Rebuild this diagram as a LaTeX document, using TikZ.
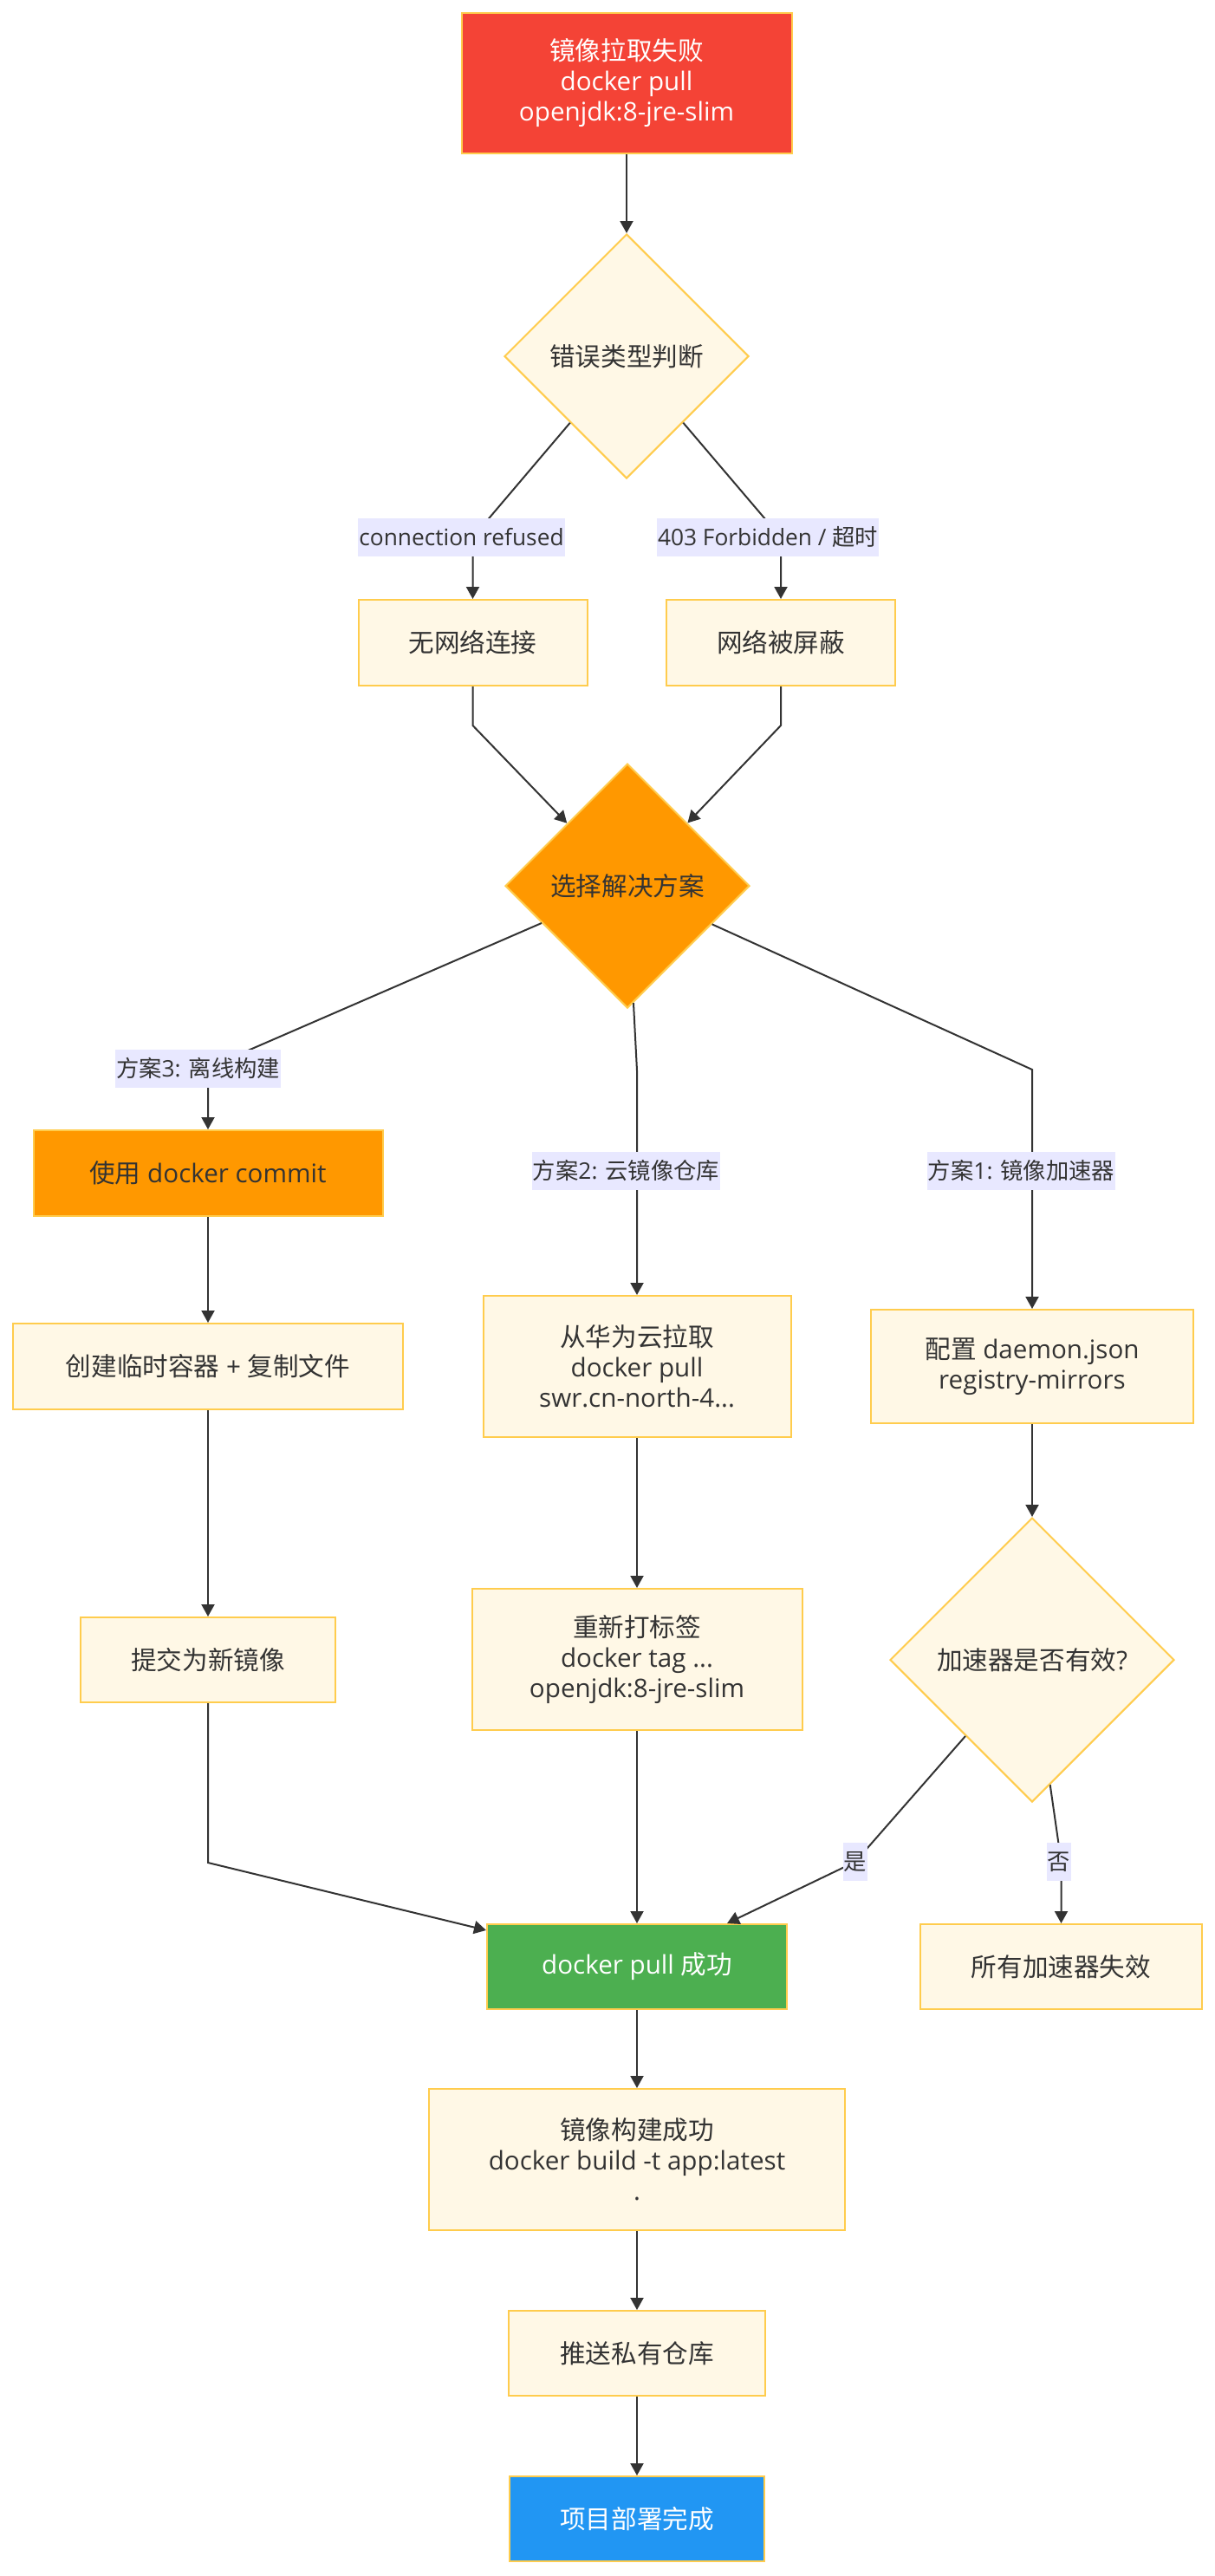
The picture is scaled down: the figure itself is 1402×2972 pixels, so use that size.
\documentclass[tikz,border=0pt]{standalone}
\usepackage{fontspec}
\setmainfont{Open Sans}
\newfontfamily\zhfont{Noto Sans CJK SC}
\newcommand\zh[1]{{\zhfont #1}}
\usetikzlibrary{shapes.geometric,arrows.meta}
\definecolor{nodefill}{HTML}{FFF8E6}
\definecolor{nodeborder}{HTML}{FFCC4D}
\definecolor{redfill}{HTML}{F44336}
\definecolor{orangefill}{HTML}{FF9800}
\definecolor{greenfill}{HTML}{4CAF50}
\definecolor{bluefill}{HTML}{2196F3}
\definecolor{lblbg}{HTML}{E8E8FF}
\definecolor{ink}{HTML}{333333}
\begin{document}
\begin{tikzpicture}[x=1pt,y=-1pt,
  box/.style={draw=nodeborder, line width=2pt, fill=nodefill, text=ink, align=center, inner sep=0pt, font=\fontsize{29.6pt}{35pt}\selectfont},
  redbox/.style={box, fill=redfill, text=white},
  obox/.style={box, fill=orangefill},
  gbox/.style={box, fill=greenfill, text=white},
  bbox/.style={box, fill=bluefill, text=white},
  dia/.style={box, diamond, aspect=1},
  odia/.style={dia, fill=orangefill},
  conn/.style={draw=ink, line width=2pt, -{Triangle[length=14pt,width=15pt]}},
  lbl/.style={fill=lblbg, text=ink, inner xsep=1pt, inner ysep=0pt, minimum height=44pt, font=\fontsize{26.3pt}{30pt}\selectfont}
]
\useasboundingbox[fill=white] (0,0) rectangle (1402,2972);

% nodes
\node[redbox, minimum width=381pt, minimum height=162pt] (A) at (723,96) {\zh{镜像拉取失败}\\docker pull\\openjdk:8-jre-slim};
\node[dia, minimum width=282pt, minimum height=282pt] (B) at (723,411) {\zh{错误类型判断}};
\node[box, minimum width=264pt, minimum height=99pt] (D) at (545.5,741.5) {\zh{无网络连接}};
\node[box, minimum width=264pt, minimum height=99pt] (E) at (901,741.5) {\zh{网络被屏蔽}};
\node[odia, minimum width=282pt, minimum height=282pt] (F) at (724,1022) {\zh{选择解决方案}};
\node[obox, minimum width=403pt, minimum height=99pt] (H) at (240,1353.5) {\zh{使用} docker commit};
\node[box, minimum width=450pt, minimum height=99pt] (J) at (240,1576.5) {\zh{创建临时容器} + \zh{复制文件}};
\node[box, minimum width=294pt, minimum height=98pt] (L) at (240,1915) {\zh{提交为新镜像}};
\node[box, minimum width=355pt, minimum height=163pt] (I) at (735,1576.5) {\zh{从华为云拉取}\\docker pull\\swr.cn-north-4...};
\node[box, minimum width=381pt, minimum height=163pt] (M) at (735,1914.5) {\zh{重新打标签}\\docker tag ...\\openjdk:8-jre-slim};
\node[box, minimum width=372pt, minimum height=131pt] (K) at (1191,1576.5) {\zh{配置} daemon.json\\registry-mirrors};
\node[dia, minimum width=328pt, minimum height=328pt] (N) at (1191,1915) {\zh{加速器是否有效}?};
\node[gbox, minimum width=346pt, minimum height=98pt] (O) at (735,2269) {docker pull \zh{成功}};
\node[box, minimum width=325pt, minimum height=98pt] (P) at (1224.5,2269) {\zh{所有加速器失效}};
\node[box, minimum width=480pt, minimum height=163pt] (Q) at (735,2491.5) {\zh{镜像构建成功}\\docker build -t app:latest\\.};
\node[box, minimum width=296pt, minimum height=98pt] (R) at (735,2715) {\zh{推送私有仓库}};
\node[bbox, minimum width=294pt, minimum height=98pt] (S) at (735,2906) {\zh{项目部署完成}};

% bend points
\coordinate (c1) at (545.5,620);
\coordinate (c2) at (901,620);
\coordinate (c3) at (545.5,837);
\coordinate (c4) at (901,837);
\coordinate (c5) at (240,1232);
\coordinate (c6) at (735,1235);
\coordinate (c7) at (1191,1234);
\coordinate (c8) at (240,2149);
\coordinate (c9) at (987,2148);
\coordinate (c10) at (1224.5,2148);

% connectors
\draw[conn] (A) -- (B);
\draw[conn] (B) -- (c1) -- (c1 |- D.north);
\draw[conn] (B) -- (c2) -- (c2 |- E.north);
\draw[conn] (D) -- (c3) -- (F);
\draw[conn] (E) -- (c4) -- (F);
\draw[conn] (F) -- (c5) -- (c5 |- H.north);
\draw[conn] (F) -- (c6) -- (c6 |- I.north);
\draw[conn] (F) -- (c7) -- (c7 |- K.north);
\draw[conn] (H) -- (J);
\draw[conn] (J) -- (L);
\draw[conn] (I) -- (M);
\draw[conn] (K) -- (N);
\draw[conn] (L) -- (c8) -- (O);
\draw[conn] (M) -- (O);
\draw[conn] (N) -- (c9) -- (O);
\draw[conn] (N) -- (c10) -- (c10 |- P.north);
\draw[conn] (O) -- (Q);
\draw[conn] (Q) -- (R);
\draw[conn] (R) -- (S);

% edge labels
\node[lbl] (l1) at (532.5,620) {connection refused};
\node[lbl] (l2) at (886,620) {403 Forbidden / \zh{超时}};
\node[lbl] (l3) at (228.5,1232.5) {\zh{方案}3: \zh{离线构建}};
\node[lbl] (l4) at (722.5,1350.5) {\zh{方案}2: \zh{云镜像仓库}};
\node[lbl] (l5) at (1178.5,1350.5) {\zh{方案}1: \zh{镜像加速器}};
\node[lbl] (l6) at (987,2148) {\zh{是}};
\node[lbl] (l7) at (1222,2148) {\zh{否}};
\end{tikzpicture}
\end{document}
